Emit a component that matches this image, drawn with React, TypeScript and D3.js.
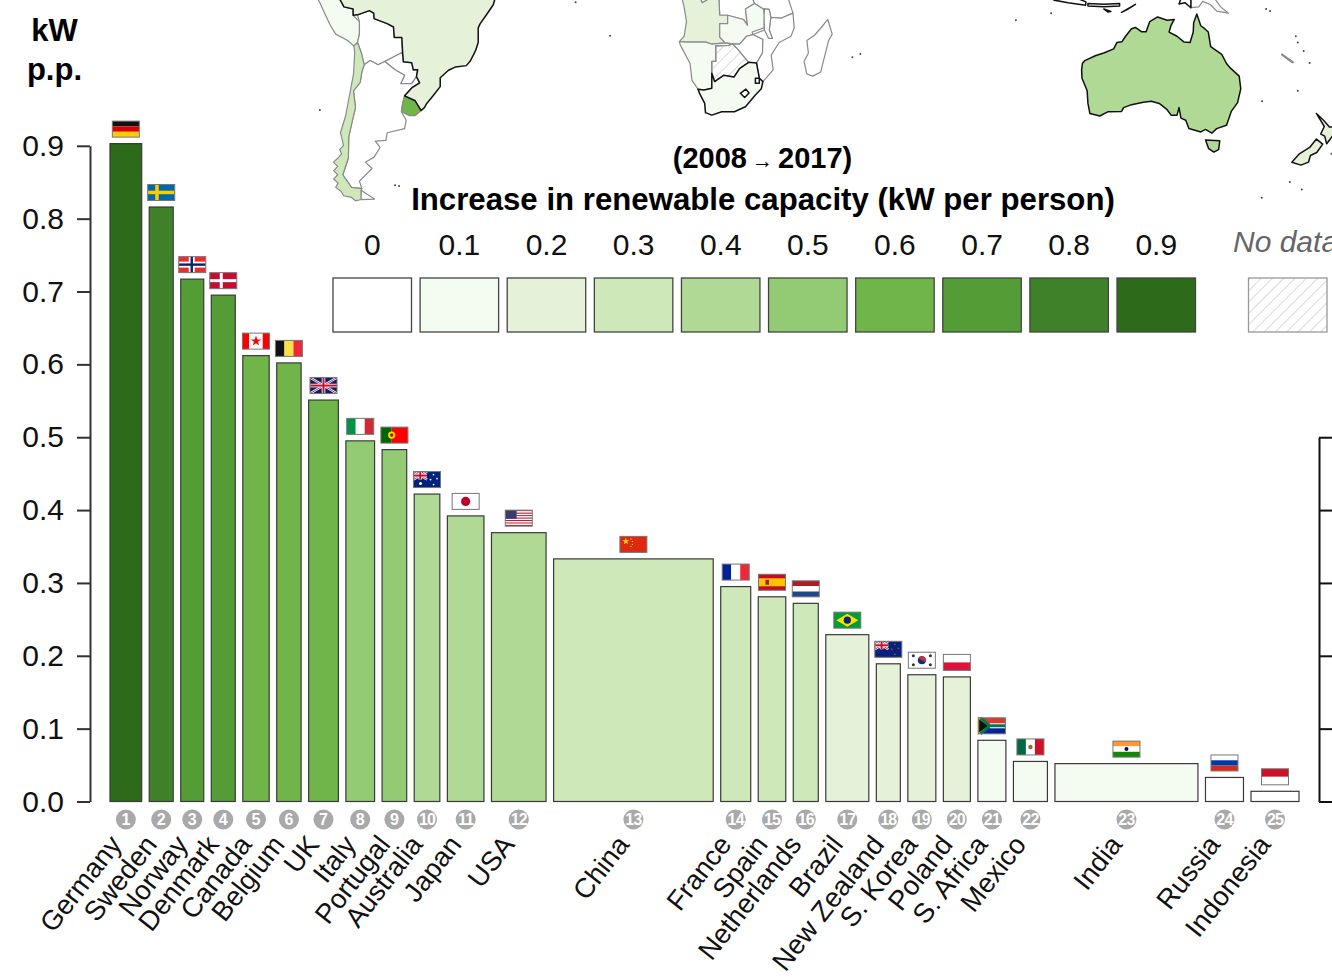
import { useEffect, useRef } from "react";
import * as d3 from "d3";

const WIDTH = 1332;
const HEIGHT = 980;
const FONT = "'Liberation Sans', Arial, sans-serif";

const countries = ["Germany", "Sweden", "Norway", "Denmark", "Canada", "Belgium", "UK", "Italy", "Portugal", "Australia", "Japan", "USA", "China", "France", "Spain", "Netherlands", "Brazil", "New Zealand", "S. Korea", "Poland", "S. Africa", "Mexico", "India", "Russia", "Indonesia"];
const flagCodes = ["de", "se", "no", "dk", "ca", "be", "uk", "it", "pt", "au", "jp", "us", "cn", "fr", "es", "nl", "br", "nz", "kr", "pl", "za", "mx", "in", "ru", "id"];
const increase = [0.903, 0.816, 0.717, 0.695, 0.612, 0.602, 0.551, 0.495, 0.483, 0.422, 0.392, 0.369, 0.333, 0.295, 0.281, 0.272, 0.229, 0.189, 0.174, 0.171, 0.084, 0.055, 0.052, 0.033, 0.014];
// relative bar widths
const weights = [31.7, 24, 23, 24, 26.4, 24.4, 29.7, 28.7, 24.6, 25.6, 36.6, 54.6, 159.6, 30, 27.5, 25, 43, 24, 28, 27, 28, 34, 143, 38, 48];

const yTicks = [0, 0.1, 0.2, 0.3, 0.4, 0.5, 0.6, 0.7, 0.8, 0.9];
const rightTicks = [0, 0.1, 0.2, 0.3, 0.4, 0.5];
const legendValues = [0, 0.1, 0.2, 0.3, 0.4, 0.5, 0.6, 0.7, 0.8, 0.9];
const greens = ["#ffffff", "#f4fbf0", "#e5f2d9", "#cee8b9", "#afd995", "#92cb74", "#70b54a", "#539c36", "#3f8129", "#2d6a1a"];

type Ring = [number, number][];
type MapShape = { rings: Ring[]; value: number | null; top: boolean };

const peru: Ring = [[-70, -4.2], [-72.9, -5.2], [-73.9, -7.3], [-72.9, -9], [-70.6, -9.5], [-70.6, -11], [-69, -12.5], [-69, -15.5], [-69.5, -17.5], [-70.4, -18.3], [-72, -17], [-75, -15.5], [-76.3, -13.5], [-77.8, -10.5], [-79, -8], [-80, -6.5], [-81.3, -4.5], [-80, -3.5], [-78, -3], [-75, -1]];
const bolivia: Ring = [[-69.5, -10.9], [-66.5, -9.9], [-65.4, -10.5], [-65.3, -11.8], [-62, -13], [-60.4, -13.8], [-60.2, -16.3], [-58.3, -16.3], [-58.1, -19.8], [-62.6, -22], [-64.3, -22.8], [-66.3, -21.8], [-67.8, -22.8], [-68.5, -20], [-69.5, -17.5], [-69, -15.5], [-69, -12.5]];
const paraguay: Ring = [[-58.1, -19.8], [-57.9, -22.1], [-55.8, -22.3], [-55.4, -24], [-54.3, -24], [-54.6, -25.6], [-55.8, -27.3], [-58.6, -27.3], [-57.6, -25.3], [-60, -24], [-62.6, -22]];
const argentina: Ring = [[-66.3, -21.8], [-64.3, -22.8], [-62.6, -22], [-60, -24], [-57.6, -25.3], [-58.6, -27.3], [-55.8, -27.3], [-54.6, -25.6], [-53.8, -27.1], [-55.8, -28.3], [-57.6, -30.2], [-58.1, -32], [-58.4, -34], [-57.2, -36], [-57.6, -38], [-62, -39], [-62.3, -40.8], [-65, -41], [-63.8, -42.5], [-65.3, -44.8], [-67.5, -46], [-65.8, -47.5], [-69, -50.5], [-68.4, -52.3], [-71, -52], [-72.5, -50], [-73.2, -49], [-71.8, -45], [-71.7, -40], [-71, -37], [-70, -33], [-70.5, -29], [-68.8, -27], [-68.4, -24.5], [-67.8, -22.8]];
const fuego: Ring = [[-68.6, -52.7], [-65.2, -54.8], [-68.6, -54.9]];
const chile: Ring = [[-69.5, -17.5], [-68.5, -20], [-67.8, -22.8], [-68.4, -24.5], [-68.8, -27], [-70.5, -29], [-70, -33], [-71, -37], [-71.7, -40], [-71.8, -45], [-73.2, -49], [-72.5, -50], [-71, -52], [-68.4, -52.3], [-68.6, -52.7], [-68.6, -54.9], [-70, -55.2], [-71, -54.4], [-73, -54], [-73.6, -53], [-75, -52], [-74.4, -51], [-75.5, -50], [-74.5, -49], [-75.5, -48], [-74.5, -47], [-75.6, -46], [-74.4, -45], [-73.5, -44], [-74, -43], [-73, -42], [-73.8, -39], [-72.5, -35], [-71.5, -30], [-70.5, -25], [-70.2, -20], [-70.4, -18.3]];
const uruguay: Ring = [[-57.6, -30.2], [-56, -30.9], [-55, -31.3], [-53.4, -33.7], [-54.9, -34.9], [-56.5, -34.9], [-58.4, -34], [-58.1, -32]];
const brazil: Ring = [[-70, -4.2], [-72.9, -5.2], [-73.9, -7.3], [-72.9, -9], [-70.6, -9.5], [-70.6, -11], [-69.5, -10.9], [-66.5, -9.9], [-65.4, -10.5], [-65.3, -11.8], [-62, -13], [-60.4, -13.8], [-60.2, -16.3], [-58.3, -16.3], [-58.1, -19.8], [-57.9, -22.1], [-55.8, -22.3], [-55.4, -24], [-54.3, -24], [-54.6, -25.6], [-53.8, -27.1], [-55.8, -28.3], [-57.6, -30.2], [-56, -30.9], [-55, -31.3], [-53.4, -33.7], [-52.6, -33], [-52, -32], [-50.5, -30.3], [-48.6, -28], [-48.6, -25.9], [-46.5, -24.1], [-44.7, -23.3], [-42, -23], [-41, -21.9], [-39.7, -19.5], [-39, -17.5], [-39, -14], [-38.5, -13], [-37, -11], [-35.2, -8.5], [-34.8, -7.2], [-35.3, -5.2], [-37.5, -4.6], [-50, 0], [-60, 2], [-67, 2]];

const drc: Ring = [[12.2, -6], [16.5, -5.9], [17.6, -8], [19.5, -7], [21.8, -7.3], [22, -11], [24, -11], [28, -12], [29, -13.4], [28.5, -9.5], [30.8, -8.2], [29.3, -4.5], [30, 0], [16, 0], [17, -3]];
const tanzania: Ring = [[29.3, -4.5], [30.8, -8.2], [33, -9.5], [34.5, -9.6], [34.9, -11.5], [37.5, -11.7], [40.5, -10.5], [39.3, -7], [39, -4.7], [34, -1], [30.5, -1]];
const angola: Ring = [[12.2, -6], [16.5, -5.9], [17.6, -8], [19.5, -7], [21.8, -7.3], [22, -11], [24, -11], [24, -13], [22, -13], [22, -16.2], [23.4, -17.6], [20, -17.9], [18.5, -17.4], [13.9, -17.4], [11.8, -17.3], [13, -16], [13.6, -12.5], [13, -9]];
const zambia: Ring = [[24, -11], [28, -12], [29, -13.4], [28.5, -9.5], [30.8, -8.2], [33, -9.5], [33.3, -11], [33.2, -14], [30.2, -15], [30.4, -15.6], [28.8, -16], [27, -17.9], [25.2, -17.8], [23.4, -17.6], [22, -16.2], [22, -13], [24, -13]];
const namibia: Ring = [[11.8, -17.3], [13.9, -17.4], [18.5, -17.4], [20, -17.9], [23.4, -17.6], [25.2, -17.8], [24.2, -18.2], [21, -18.3], [21, -22], [20, -22], [20, -28.4], [18, -28.8], [16.5, -28.6], [15, -26.5], [14.5, -22.5], [12, -18]];
const botswana: Ring = [[21, -18.3], [24.2, -18.2], [25.2, -17.8], [26.5, -19], [29.3, -22.2], [27, -23.7], [25.6, -25.7], [23, -25.3], [20.7, -26.8], [20, -24.8], [20, -22], [21, -22]];
const zimbabwe: Ring = [[25.2, -17.8], [27, -17.9], [28.8, -16], [30.4, -15.6], [32.9, -16.7], [32.8, -20], [31.3, -22.4], [29.3, -22.2], [26.5, -19]];
const mozambique: Ring = [[40.5, -10.5], [37.5, -11.7], [34.9, -11.5], [34.5, -14.5], [35.3, -16.5], [33.3, -14.5], [30.4, -15.6], [32.9, -16.7], [32.8, -20], [31.3, -22.4], [32, -26], [32.9, -26.8], [35.5, -24], [35, -20.5], [37, -17.5], [40, -16], [40.8, -14]];
const malawi: Ring = [[33.3, -9.5], [34.5, -9.6], [34.9, -11.5], [34.5, -14.5], [35.3, -16.5], [34.3, -16.5], [33.3, -14.5], [33.2, -11]];
const southAfrica: Ring = [[16.5, -28.6], [18, -28.8], [20, -28.4], [20, -24.8], [20.7, -26.8], [23, -25.3], [25.6, -25.7], [27, -23.7], [29.3, -22.2], [31.3, -22.4], [32, -26], [32.9, -26.8], [32.5, -28.5], [31, -30], [28.5, -32.8], [25.7, -34], [22.5, -34], [20, -34.8], [18.4, -34.2], [18.2, -32], [17, -29.8]];
const lesotho: Ring = [[27.2, -29.6], [28.6, -28.6], [29.4, -29.5], [28.3, -30.6]];
const eswatini: Ring = [[31, -26], [32, -26], [32, -27.2], [31, -27.2]];
const madagascar: Ring = [[49.3, -12], [50.4, -15.5], [49.5, -17], [47.5, -24.5], [45.5, -25.5], [44, -25], [43.3, -22], [44.4, -20], [44, -17], [46, -15.7], [48, -13.5]];

const mainland: Ring = [[113.6, -22.5], [114.2, -21.8], [117, -20.6], [119, -20], [121.5, -19], [122.3, -17.5], [123.6, -17.3], [124.5, -16], [126, -14.2], [127, -13.9], [128.5, -14.9], [129.7, -14.9], [130.6, -12.5], [132.6, -11.4], [135, -12.2], [136.8, -12], [136, -13.4], [135.5, -15], [137.5, -16], [139.3, -17.4], [140.8, -17.5], [141.6, -15], [141.7, -12.8], [142.5, -10.7], [143.5, -13.5], [144.5, -14.2], [145.4, -15], [146, -18.5], [148.8, -20.3], [150, -22.5], [151, -23.6], [153.2, -25.5], [153.6, -28.5], [152.8, -31.8], [151.2, -33.9], [150, -37.2], [147.5, -38], [146.3, -39.1], [144.7, -38.2], [143.5, -38.8], [140.5, -38], [139.7, -36], [138.5, -35.5], [138, -33], [137.5, -34.8], [136, -34.8], [135, -33.5], [133, -32], [131, -31.5], [129, -31.7], [126, -32.3], [124, -33], [123.5, -33.9], [120, -34], [118, -35], [115.5, -34.4], [115, -32], [114.8, -29], [113.5, -26], [113.4, -24]];
const tasmania: Ring = [[144.7, -40.7], [148.3, -40.9], [148, -43], [146.8, -43.6], [145.5, -42.8]];
const nzSouth: Ring = [[172.7, -40.5], [174.3, -41.7], [172.8, -43.7], [171.2, -44.4], [170.7, -46], [168.8, -46.7], [166.5, -46], [168.4, -44], [171, -42.5]];
const nzNorth: Ring = [[172.7, -34.4], [174.5, -36], [176, -37.6], [178.5, -37.7], [177, -39.5], [175.3, -41.6], [174.8, -39.8], [173.8, -39.3], [174.7, -37.5]];
const java: Ring = [[105.3, -6.8], [108.5, -6.6], [111, -6.5], [114.5, -7.8], [114.4, -8.6], [110, -8], [106.5, -7.4]];
const sundas: Ring = [[115, -8.2], [119, -8.4], [123, -8.2], [123, -8.8], [119, -9], [115, -8.8]];
const sumba: Ring = [[119, -9.5], [120.8, -10.1], [120, -10.2]];
const timor: Ring = [[123.5, -10.3], [127, -8.4], [125, -9.6]];
const papua: Ring = [[141, -2.6], [141, -9.2], [139.5, -8], [138, -8.3], [138.5, -7], [135, -4.5], [132, -3]];
const png: Ring = [[141, -2.6], [145, -4], [147.5, -6], [147, -7], [148.5, -9], [150.5, -10.5], [147.5, -10], [146, -8.5], [144, -7.7], [143, -9], [141, -9.2]];
const newCaledonia: Ring = [[164, -20.2], [167, -22.2], [166.6, -22.3], [163.9, -20.4]];

const mapShapes: MapShape[] = [
  { rings: [peru], value: 0.1, top: false },
  { rings: [bolivia], value: 0, top: false },
  { rings: [paraguay], value: 0, top: false },
  { rings: [argentina, fuego], value: 0, top: false },
  { rings: [chile], value: 0.3, top: false },
  { rings: [uruguay], value: 0.6, top: false },
  { rings: [drc], value: 0, top: false },
  { rings: [tanzania], value: 0, top: false },
  { rings: [angola], value: 0.2, top: false },
  { rings: [zambia], value: 0.1, top: false },
  { rings: [namibia], value: 0.1, top: false },
  { rings: [botswana], value: null, top: false },
  { rings: [zimbabwe], value: 0, top: false },
  { rings: [mozambique], value: 0, top: false },
  { rings: [malawi], value: 0, top: false },
  { rings: [madagascar], value: 0, top: false },
  { rings: [png], value: 0, top: false },
  { rings: [newCaledonia], value: 0, top: false },
  { rings: [brazil], value: 0.2, top: true },
  { rings: [southAfrica], value: 0.1, top: true },
  { rings: [lesotho], value: 0, top: true },
  { rings: [eswatini], value: 0, top: true },
  { rings: [mainland, tasmania], value: 0.4, top: true },
  { rings: [nzSouth, nzNorth], value: 0.2, top: true },
  { rings: [java, sundas, sumba, timor, papua], value: 0, top: true },
];

const islands: [number, number][] = [[-79, -33.6], [-59, -51.7], [-60, -51.5], [-5.7, -15.9], [-14.4, -7.9], [55.5, -21], [57.5, -20.2], [105.7, -10.5], [96.8, -12.2], [158.9, -54.5], [166, -50.7], [169, -52.5], [167.5, -16], [168, -17.5], [160, -9.5], [161, -10], [178, -17.8], [159, -31.5], [168, -29], [169.5, -19.5], [171, -22.4], [176.5, -44]];

// stripes top-to-bottom (or left-to-right for vertical ones)
const hStripes: Record<string, string[]> = {
  de: ["#111111", "#dd0000", "#ffcc00"],
  nl: ["#ae1c28", "#ffffff", "#21468b"],
  pl: ["#ffffff", "#dc143c"],
  in: ["#ff9933", "#ffffff", "#138808"],
  ru: ["#ffffff", "#0039a6", "#d52b1e"],
  id: ["#ce1126", "#ffffff"],
};
const vStripes: Record<string, string[]> = {
  be: ["#111111", "#fae042", "#ed2939"],
  it: ["#009246", "#ffffff", "#ce2b37"],
  fr: ["#002395", "#ffffff", "#ed2939"],
  mx: ["#006847", "#ffffff", "#ce1126"],
  ca: ["#ff0000", "#ffffff", "#ffffff", "#ff0000"],
};

const FLAG_W = 27;
const FLAG_H = 16;

function drawUnion(g: d3.Selection<SVGGElement, unknown, null, undefined>, w: number, h: number) {
  const line = (x1: number, y1: number, x2: number, y2: number, c: string, sw: number) =>
    g.append("line").attr("x1", x1).attr("y1", y1).attr("x2", x2).attr("y2", y2).attr("stroke", c).attr("stroke-width", sw);
  g.append("rect").attr("width", w).attr("height", h).attr("fill", "#012169");
  line(0, 0, w, h, "#ffffff", 2.4);
  line(w, 0, 0, h, "#ffffff", 2.4);
  line(0, 0, w, h, "#c8102e", 0.9);
  line(w, 0, 0, h, "#c8102e", 0.9);
  line(w / 2, 0, w / 2, h, "#ffffff", 3.6);
  line(0, h / 2, w, h / 2, "#ffffff", 3.6);
  line(w / 2, 0, w / 2, h, "#c8102e", 2);
  line(0, h / 2, w, h / 2, "#c8102e", 2);
}

function drawFlag(g: d3.Selection<SVGGElement, unknown, null, undefined>, code: string) {
  const W = FLAG_W;
  const H = FLAG_H;
  const rect = (x: number, y: number, w: number, h: number, c: string) =>
    g.append("rect").attr("x", x).attr("y", y).attr("width", w).attr("height", h).attr("fill", c);
  const circle = (x: number, y: number, r: number, c: string) =>
    g.append("circle").attr("cx", x).attr("cy", y).attr("r", r).attr("fill", c);

  const hs = hStripes[code];
  const vs = vStripes[code];
  if (hs) hs.forEach((c, i) => rect(0, (i * H) / hs.length, W, H / hs.length, c));
  if (vs) vs.forEach((c, i) => rect((i * W) / vs.length, 0, W / vs.length, H, c));

  if (code === "se") {
    rect(0, 0, W, H, "#006aa7");
    rect(7.5, 0, 3.5, H, "#fecc00");
    rect(0, 6.2, W, 3.5, "#fecc00");
  } else if (code === "no") {
    rect(0, 0, W, H, "#ef2b2d");
    rect(10, 0, 6, H, "#ffffff");
    rect(0, 5, W, 6, "#ffffff");
    rect(11.8, 0, 2.4, H, "#002868");
    rect(0, 6.8, W, 2.4, "#002868");
  } else if (code === "dk") {
    rect(0, 0, W, H, "#c60c30");
    rect(10, 0, 3, H, "#ffffff");
    rect(0, 6.5, W, 3, "#ffffff");
  } else if (code === "ca") {
    g.append("path").attr("d", d3.symbol(d3.symbolStar, 34)() as string).attr("transform", `translate(${W / 2},${H / 2})`).attr("fill", "#ff0000");
  } else if (code === "uk") {
    drawUnion(g, W, H);
  } else if (code === "pt") {
    rect(0, 0, W * 0.4, H, "#006600");
    rect(W * 0.4, 0, W * 0.6, H, "#ff0000");
    circle(W * 0.4, H / 2, 3.6, "#ffe000");
    circle(W * 0.4, H / 2, 1.8, "#d01010");
  } else if (code === "au" || code === "nz") {
    rect(0, 0, W, H, "#00247d");
    const u = g.append("g");
    drawUnion(u, W / 2, H / 2);
    const stars = code === "au" ? "#ffffff" : "#d8263a";
    [[20, 3], [23.5, 7], [20, 13], [17, 8]].forEach(([x, y]) => circle(x, y, 0.9, stars));
    if (code === "au") circle(7, 12, 1.5, "#ffffff");
  } else if (code === "jp") {
    rect(0, 0, W, H, "#ffffff");
    circle(W / 2, H / 2, 4.6, "#bc002d");
  } else if (code === "us") {
    d3.range(13).forEach((i) => rect(0, (i * H) / 13, W, H / 13, i % 2 ? "#ffffff" : "#b22234"));
    rect(0, 0, W * 0.42, (H * 7) / 13, "#3c3b6e");
  } else if (code === "cn") {
    rect(0, 0, W, H, "#de2910");
    g.append("path").attr("d", d3.symbol(d3.symbolStar, 14)() as string).attr("transform", `translate(6,5)`).attr("fill", "#ffde00");
    [[11, 2.5], [12.5, 5], [12.5, 8], [11, 10]].forEach(([x, y]) => circle(x, y, 0.6, "#ffde00"));
  } else if (code === "es") {
    rect(0, 0, W, H, "#c60b1e");
    rect(0, H / 4, W, H / 2, "#ffc400");
    rect(7, 5.5, 3.5, 5, "#ad1519");
  } else if (code === "br") {
    rect(0, 0, W, H, "#009b3a");
    g.append("path").attr("d", d3.line()([[2.5, H / 2], [W / 2, 1.5], [W - 2.5, H / 2], [W / 2, H - 1.5]]) + "Z").attr("fill", "#fedf00");
    circle(W / 2, H / 2, 3.6, "#002776");
  } else if (code === "kr") {
    rect(0, 0, W, H, "#ffffff");
    circle(W / 2, H / 2, 4, "#003478");
    g.append("path").attr("d", d3.arc()({ innerRadius: 0, outerRadius: 4, startAngle: -Math.PI / 2 + 0.5, endAngle: Math.PI / 2 + 0.5 }) as string).attr("transform", `translate(${W / 2},${H / 2})`).attr("fill", "#cd2e3a");
    [[5, 3.5], [W - 5, 3.5], [5, H - 3.5], [W - 5, H - 3.5]].forEach(([x, y]) => circle(x, y, 1.5, "#333333"));
  } else if (code === "za") {
    rect(0, 0, W, H / 2, "#de3831");
    rect(0, H / 2, W, H / 2, "#002395");
    g.append("path").attr("d", `M${W / 2.4},${H / 2}H${W}`).attr("stroke", "#ffffff").attr("stroke-width", 5);
    g.append("path").attr("d", `M0,0L${W / 2.4},${H / 2}L0,${H}Z`).attr("fill", "#111111").attr("stroke", "#ffb612").attr("stroke-width", 1.5);
    g.append("path").attr("d", `M${W / 2.4},${H / 2}H${W}M2,0L${W / 2.4},${H / 2}L2,${H}`).attr("stroke", "#007a4d").attr("stroke-width", 3).attr("fill", "none");
  } else if (code === "mx") {
    circle(W / 2, H / 2, 2.2, "#8c6a3a");
  } else if (code === "in") {
    circle(W / 2, H / 2, 2, "#000080");
  }

  g.append("rect").attr("width", W).attr("height", H).attr("fill", "none").attr("stroke", "#777777").attr("stroke-width", 1);
}

export default function App() {
  const svgRef = useRef<SVGSVGElement>(null);

  useEffect(() => {
    if (!svgRef.current) return;
    const svg = d3.select(svgRef.current);
    svg.selectAll("*").remove();

    const y = d3.scaleLinear().domain([0, 0.9]).range([801.5, 145.8]);
    const color = d3.scaleThreshold<number, string>().domain([0.05, 0.15, 0.25, 0.35, 0.45, 0.55, 0.65, 0.75, 0.85]).range(greens);

    const defs = svg.append("defs");
    defs.append("pattern").attr("id", "hatch").attr("width", 8).attr("height", 8).attr("patternUnits", "userSpaceOnUse").attr("patternTransform", "rotate(45)")
      .append("line").attr("x1", 0).attr("y1", 0).attr("x2", 0).attr("y2", 8).attr("stroke", "#bdbdbd").attr("stroke-width", 1.1);

    // map, lon/lat through a plain linear projection
    const lonX = d3.scaleLinear().domain([-58, 113.5]).range([403, 1082]);
    const latY = d3.scaleLinear().domain([-35, -10.7]).range([116, 14]);
    const projection = d3.geoTransform({
      point(lon, lat) {
        this.stream.point(lonX(lon), latY(lat));
      },
    });
    const geo = d3.geoPath(projection);
    const map = svg.append("g").attr("stroke-linejoin", "round");
    mapShapes.forEach((s) => {
      map.append("path")
        .attr("d", geo({ type: "MultiPolygon", coordinates: s.rings.map((r) => [[...r, r[0]]]) } as any))
        .attr("fill", s.value === null ? "url(#hatch)" : color(s.value))
        .attr("stroke", s.top ? "#111111" : "#8a8a8a")
        .attr("stroke-width", s.top ? 1.5 : 1.2);
    });
    map.selectAll("circle.isl").data(islands).join("circle")
      .attr("cx", (d) => lonX(d[0])).attr("cy", (d) => latY(d[1])).attr("r", 1).attr("fill", "#444444");

    // bars
    const GAP = (1189 - d3.sum(weights)) / (weights.length - 1);
    const x = d3.scaleLinear().domain([0, d3.sum(weights)]).range([110, 110 + d3.sum(weights)]);
    const lefts = weights.map((_, i) => x(d3.sum(weights.slice(0, i))) + GAP * i);
    const widths = weights.map((w) => x(w) - x(0));
    const centers = lefts.map((l, i) => l + widths[i] / 2);

    const bars = svg.append("g");
    increase.forEach((v, i) => {
      bars.append("rect")
        .attr("x", lefts[i]).attr("y", y(v)).attr("width", widths[i]).attr("height", y(0) - y(v))
        .attr("fill", color(v)).attr("stroke", "#3a3a3a").attr("stroke-width", 1.2);

      const f = svg.append("g").attr("transform", `translate(${centers[i] - FLAG_W / 2},${y(v) - 6.5 - FLAG_H})`);
      drawFlag(f as any, flagCodes[i]);

      svg.append("circle").attr("cx", centers[i]).attr("cy", 819.5).attr("r", 10).attr("fill", "#a9a9a9");
      svg.append("text").attr("x", centers[i]).attr("y", 825.3).attr("text-anchor", "middle")
        .attr("font-family", FONT).attr("font-size", 16).attr("font-weight", "bold").attr("letter-spacing", i >= 9 ? -0.8 : 0).attr("fill", "#ffffff")
        .text(i + 1);

      svg.append("text")
        .attr("transform", `translate(${centers[i] - 3},845) rotate(-52)`)
        .attr("text-anchor", "end").attr("font-family", FONT).attr("font-size", 27.5).attr("fill", "#111111")
        .text(countries[i]);
    });

    // axes
    const left = svg.append("g").attr("transform", "translate(90,0)")
      .call(d3.axisLeft(y).tickValues(yTicks).tickSize(13).tickSizeOuter(0).tickPadding(13).tickFormat(d3.format(".1f")));
    left.selectAll("path,line").attr("stroke", "#333333").attr("stroke-width", 2);
    left.selectAll("text").attr("font-family", FONT).attr("font-size", 30).attr("fill", "#111111");

    const yRight = d3.scaleLinear().domain([0, 0.5]).range([y(0), y(0.5)]);
    const right = svg.append("g").attr("transform", "translate(1319,0)")
      .call(d3.axisRight(yRight).tickValues(rightTicks).tickSize(14).tickSizeOuter(0).tickFormat(() => ""));
    right.selectAll("path,line").attr("stroke", "#111111").attr("stroke-width", 2);

    // y unit
    ["kW", "p.p."].forEach((t, i) => {
      svg.append("text").attr("x", 54.5).attr("y", 41 + i * 38.5).attr("text-anchor", "middle")
        .attr("font-family", FONT).attr("font-size", 31).attr("font-weight", "bold").attr("fill", "#000000").text(t);
    });

    // legend
    const period = svg.append("text").attr("x", 762.5).attr("y", 168).attr("text-anchor", "middle").attr("font-family", FONT)
      .attr("font-size", 29).attr("font-weight", "bold").attr("fill", "#000000");
    period.append("tspan").text("(2008");
    period.append("tspan").attr("dx", 5).attr("font-size", 21).text("→");
    period.append("tspan").attr("dx", 5).text("2017)");
    svg.append("text").attr("x", 763).attr("y", 210).attr("text-anchor", "middle").attr("font-family", FONT)
      .attr("font-size", 31.2).attr("font-weight", "bold").attr("fill", "#000000").text("Increase in renewable capacity (kW per person)");

    const legendX = d3.scaleLinear().domain([0, 0.9]).range([333, 1117]);
    legendValues.forEach((v) => {
      svg.append("rect").attr("x", legendX(v)).attr("y", 278).attr("width", 78.5).attr("height", 54)
        .attr("fill", color(v)).attr("stroke", "#444444").attr("stroke-width", 1.3);
      svg.append("text").attr("x", legendX(v) + 39.3).attr("y", 255).attr("text-anchor", "middle").attr("font-family", FONT)
        .attr("font-size", 30).attr("fill", "#111111").text(v === 0 ? "0" : d3.format(".1f")(v));
    });
    svg.append("rect").attr("x", 1248.5).attr("y", 278).attr("width", 78.5).attr("height", 54)
      .attr("fill", "url(#hatch)").attr("stroke", "#999999").attr("stroke-width", 1.3);
    svg.append("text").attr("x", 1233).attr("y", 252).attr("font-family", FONT).attr("font-size", 30)
      .attr("font-style", "italic").attr("fill", "#666666").text("No data");
  }, []);

  return <svg ref={svgRef} width={WIDTH} height={HEIGHT} style={{ position: "absolute", left: 0, top: 0, background: "#ffffff" }} />;
}
